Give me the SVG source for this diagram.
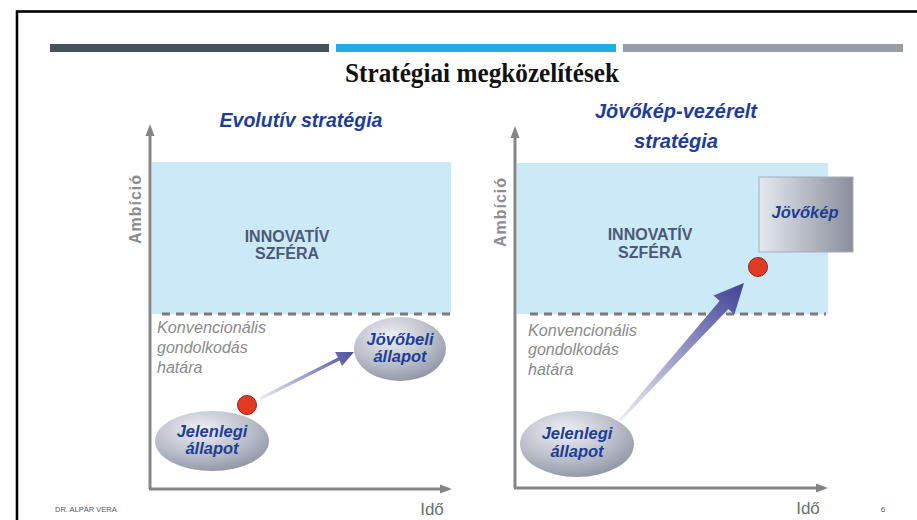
<svg xmlns="http://www.w3.org/2000/svg" width="917" height="520" viewBox="0 0 917 520">
<style>
.axis{stroke:#858585;stroke-width:3;fill:none}
.ahead{fill:#858585}
.dash{stroke:#7a7a7a;stroke-width:3;stroke-dasharray:8 6;fill:none}
.zone{fill:#cce9f7}
.amb{font-family:"Liberation Sans",Arial,sans-serif;font-weight:bold;font-size:16px;fill:#8c8c8c;letter-spacing:1px}
.inno{font-family:"Liberation Sans",Arial,sans-serif;font-weight:bold;font-size:16px;fill:#4b5a78;text-anchor:middle}
.conv{font-family:"Liberation Sans",Arial,sans-serif;font-style:italic;font-size:16px;fill:#8a8a8a}
.lbl{font-family:"Liberation Sans",Arial,sans-serif;font-style:italic;font-weight:bold;font-size:16.5px;fill:#1f3d96;text-anchor:middle}
.head{font-family:"Liberation Sans",Arial,sans-serif;font-style:italic;font-weight:bold;font-size:21px;fill:#1f3d96;text-anchor:middle}
.ido{font-family:"Liberation Sans",Arial,sans-serif;font-size:17px;fill:#6e6e6e;text-anchor:middle}
.dot{fill:#e23a22;stroke:#9c1f12;stroke-width:1}
</style>
<defs>
<radialGradient id="ell" cx="0.4" cy="0.3" r="0.75">
<stop offset="0" stop-color="#eef0f5"/>
<stop offset="0.6" stop-color="#b9bdc9"/>
<stop offset="1" stop-color="#8e93a3"/>
</radialGradient>
<linearGradient id="box" x1="0" y1="0" x2="1" y2="0">
<stop offset="0" stop-color="#e4e8f0"/>
<stop offset="1" stop-color="#8a8e9b"/>
</linearGradient>
<linearGradient id="arr1" x1="260" y1="398" x2="355" y2="354" gradientUnits="userSpaceOnUse">
<stop offset="0" stop-color="#e8e8f2"/>
<stop offset="1" stop-color="#4d4fa0"/>
</linearGradient>
<linearGradient id="arr2" x1="620" y1="420" x2="744" y2="283" gradientUnits="userSpaceOnUse">
<stop offset="0" stop-color="#eeeef5"/>
<stop offset="1" stop-color="#3f4196"/>
</linearGradient>
</defs>
<rect x="0" y="0" width="917" height="520" fill="#ffffff"/>
<rect x="17" y="11.5" width="920" height="530" fill="none" stroke="#000" stroke-width="2.6"/>
<rect x="50" y="44" width="279" height="8" fill="#47535a"/>
<rect x="336" y="44" width="280" height="8" fill="#1fade4"/>
<rect x="623" y="44" width="280" height="8" fill="#979ca6"/>
<text x="482" y="82" font-family="'Liberation Serif','Times New Roman',serif" font-weight="bold" font-size="26.5" text-anchor="middle" textLength="274" lengthAdjust="spacingAndGlyphs" fill="#111">Stratégiai megközelítések</text>

<g id="left-chart">
<rect class="zone" x="152" y="162" width="299" height="152"/>
<line class="dash" x1="162" y1="314" x2="452" y2="314"/>
<line class="axis" x1="150" y1="134" x2="150" y2="489"/>
<polygon class="ahead" points="150,124 145.5,136 154.5,136"/>
<line class="axis" x1="149" y1="489" x2="442" y2="489"/>
<polygon class="ahead" points="452,489 440,484.5 440,493.5"/>
<text class="head" x="301" y="127" textLength="163" lengthAdjust="spacingAndGlyphs">Evolutív stratégia</text>
<text class="amb" transform="translate(141,209) rotate(-90)" text-anchor="middle">Ambíció</text>
<text class="inno" x="287" y="242">INNOVATÍV</text>
<text class="inno" x="287" y="259">SZFÉRA</text>
<text class="conv" x="157" y="333" textLength="109" lengthAdjust="spacingAndGlyphs">Konvencionális</text>
<text class="conv" x="157" y="353">gondolkodás</text>
<text class="conv" x="157" y="373">határa</text>
<text class="ido" x="432" y="515">Idő</text>
</g>

<g id="right-chart">
<rect class="zone" x="517" y="163" width="311" height="151"/>
<line class="dash" x1="530" y1="314" x2="826" y2="314"/>
<line class="axis" x1="515" y1="136" x2="515" y2="488"/>
<polygon class="ahead" points="515,126 510.5,138 519.5,138"/>
<line class="axis" x1="514" y1="488" x2="818" y2="488"/>
<polygon class="ahead" points="828,488 816,483.5 816,492.5"/>
<text class="head" x="676" y="118" textLength="162" lengthAdjust="spacingAndGlyphs">Jövőkép-vezérelt</text>
<text class="head" x="676" y="148" textLength="84" lengthAdjust="spacingAndGlyphs">stratégia</text>
<text class="amb" transform="translate(506,212) rotate(-90)" text-anchor="middle">Ambíció</text>
<text class="inno" x="650" y="240">INNOVATÍV</text>
<text class="inno" x="650" y="258">SZFÉRA</text>
<text class="conv" x="528" y="336" textLength="109" lengthAdjust="spacingAndGlyphs">Konvencionális</text>
<text class="conv" x="528" y="355">gondolkodás</text>
<text class="conv" x="528" y="375">határa</text>
<text class="ido" x="808" y="514">Idő</text>
</g>

<g id="connectors">
<polygon fill="url(#arr1)" points="260,397 338,357.5 335,352 354,352 342,366 339.5,360.5 261,400"/>
<polygon fill="url(#arr2)" points="619,419.5 719.6,301 713.6,295.6 744,283 734.4,314.4 728.4,309 621,421"/>
</g>

<g id="node-jelenlegi-left">
<ellipse cx="212" cy="441" rx="57" ry="30" fill="url(#ell)"/>
<text class="lbl" x="212" y="437">Jelenlegi</text>
<text class="lbl" x="212" y="454">állapot</text>
</g>
<g id="node-dot-left">
<circle class="dot" cx="247" cy="405" r="9.5"/>
</g>
<g id="node-jovobeli">
<ellipse cx="400" cy="349" rx="46" ry="32" fill="url(#ell)"/>
<text class="lbl" x="400" y="345">Jövőbeli</text>
<text class="lbl" x="400" y="362">állapot</text>
</g>

<g id="node-jelenlegi-right">
<ellipse cx="577" cy="444" rx="57" ry="33" fill="url(#ell)"/>
<text class="lbl" x="577" y="439">Jelenlegi</text>
<text class="lbl" x="577" y="457">állapot</text>
</g>
<g id="node-dot-right">
<circle class="dot" cx="758" cy="267" r="9.5"/>
</g>
<g id="node-jovokep">
<rect x="759" y="177" width="94" height="75" fill="url(#box)" stroke="#a8acb6" stroke-width="1"/>
<text class="lbl" x="805" y="218" font-size="15">Jövőkép</text>
</g>

<text x="55" y="512" font-family="'Liberation Sans',Arial,sans-serif" font-size="7.5" fill="#555">DR. ALPÁR VERA</text>
<text x="883" y="512" font-family="'Liberation Sans',Arial,sans-serif" font-size="8" fill="#555" text-anchor="middle">6</text>
</svg>
